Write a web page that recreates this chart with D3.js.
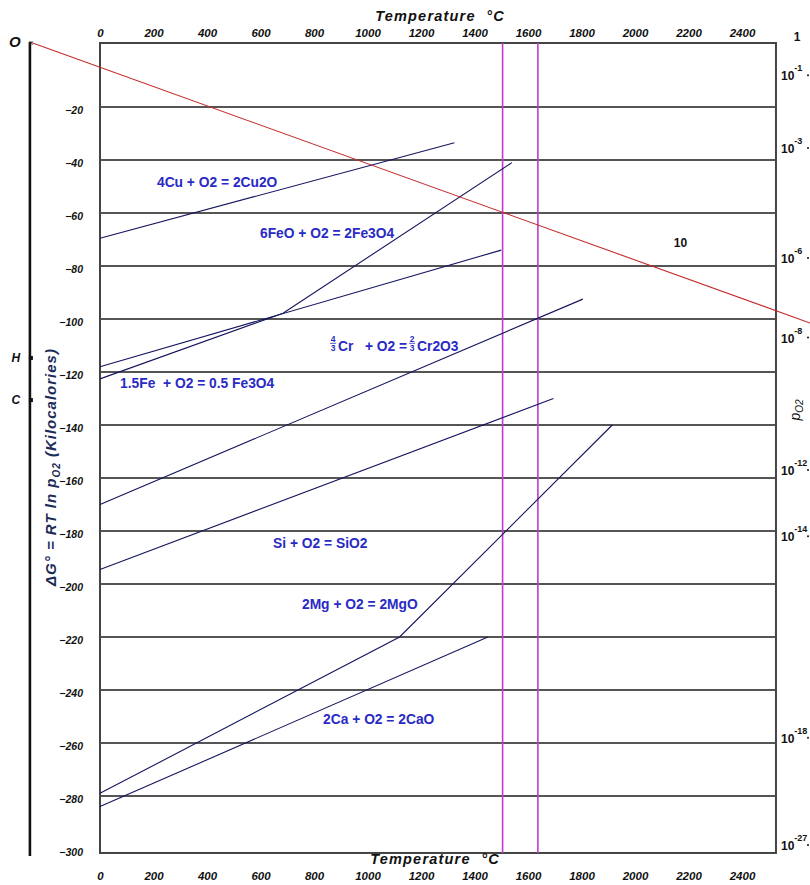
<!DOCTYPE html>
<html>
<head>
<meta charset="utf-8">
<script src="https://cdn.jsdelivr.net/npm/d3@7"></script>
<style>
  html, body { margin: 0; padding: 0; background: #fff; }
  svg { display: block; }
</style>
</head>
<body>
<div id="chart"></div>
<script>
// Ellingham diagram with p(O2) nomograph: standard free energy of oxide formation (kcal per mol O2) vs temperature.

const tempTicks = [0, 200, 400, 600, 800, 1000, 1200, 1400, 1600, 1800, 2000, 2200, 2400];
const energyTicks = [-20, -40, -60, -80, -100, -120, -140, -160, -180, -200, -220, -240, -260, -280, -300];
const gridValues = [-20, -40, -60, -80, -100, -120, -140, -160, -180, -200, -220, -240, -260, -280];

// Reaction lines: [temperature °C, ΔG° kcal]
const cuLine   = [[0, -69.5], [1325, -33.5]];
const feLine   = [[0, -118], [1500, -74]];
const feoLine  = [[0, -122.6], [684, -97.8], [1540, -41]];
const crLine   = [[0, -170], [1805, -92.5]];
const siLine   = [[0, -194.5], [1695, -130]];
const mgLine   = [[0, -279], [1120, -220], [1915, -140]];
const caLine   = [[0, -284], [1450, -220]];

const reactionLabels = ["4Cu + O2 = 2Cu2O", "6FeO + O2 = 2Fe3O4", "1.5Fe  + O2 = 0.5 Fe3O4",
                        "Si + O2 = SiO2", "2Mg + O2 = 2MgO", "2Ca + O2 = 2CaO"];
// label anchor (start of text): [temperature °C, ΔG° kcal]
const reactionLabelAt = [[213, -50.2], [598, -69.4], [75, -126], [647, -186.4], [755, -209.4], [834, -252.8]];
const crLabelAt = [860, -110.5];

// Steelmaking temperature band (°C)
const meltTemps = [1505, 1637];

// Nomograph: origin O at 0 K, and the oxygen-potential line
const oxygenLine = [[-262, 4.5], [2654, -101.5]];
const originPoints = [{ name: "O", g: 4.5 }, { name: "H", g: -114.7 }, { name: "C", g: -130.6 }];
const oxygenMarkAt = [2170, -73];

// Right-hand p(O2) scale (atm)
const pO2Exponents = [null, -1, -3, -6, -8, -12, -14, -18, -27];
const pO2At = [6.5, -8, -35.5, -77, -107, -157, -182, -258, -298.5];

const W = 810, H = 885;
const x = d3.scaleLinear().domain([0, 2400]).range([100, 742]);
const y = d3.scaleLinear().domain([0, -300]).range([54, 849]);
const frameT = [0, 2527];
const frameG = [4.15, -301.5];

const svg = d3.select("#chart").append("svg").attr("width", W).attr("height", H);

const tickFont = "'Liberation Sans', Arial, sans-serif";
const eqFont = "'Liberation Sans', Arial, sans-serif";
const eqColor = "#2a2ac4";
const lineColor = "#15155e";
const nb = s => s.replace(/ /g, "\u00a0");

// horizontal grid lines
svg.append("g").selectAll("line").data(gridValues).join("line")
  .attr("x1", x(frameT[0])).attr("x2", x(frameT[1]))
  .attr("y1", d => y(d)).attr("y2", d => y(d))
  .attr("stroke", "#1c1c1c").attr("stroke-width", 1.4);

// frame
svg.append("rect")
  .attr("x", x(frameT[0])).attr("y", y(frameG[0]))
  .attr("width", x(frameT[1]) - x(frameT[0])).attr("height", y(frameG[1]) - y(frameG[0]))
  .attr("fill", "none").attr("stroke", "#444").attr("stroke-width", 2);

// melting band verticals
svg.append("g").selectAll("line").data(meltTemps).join("line")
  .attr("x1", d => x(d)).attr("x2", d => x(d))
  .attr("y1", y(frameG[0])).attr("y2", y(frameG[1]))
  .attr("stroke", "#c03ad0").attr("stroke-width", 1.6);

// reaction lines
const line = d3.line().x(d => x(d[0])).y(d => y(d[1]));
svg.append("g").selectAll("path")
  .data([cuLine, feLine, feoLine, crLine, siLine, mgLine, caLine]).join("path")
  .attr("d", line).attr("fill", "none")
  .attr("stroke", lineColor).attr("stroke-width", 1.1);

// oxygen potential line from O
svg.append("path").attr("d", line(oxygenLine))
  .attr("fill", "none").attr("stroke", "#c42a2a").attr("stroke-width", 1.1);

// top & bottom temperature axes
const fmt = d3.format("d");
const topAxis = d3.axisTop(x).tickValues(tempTicks).tickFormat(fmt).tickSize(0).tickPadding(0);
const botAxis = d3.axisBottom(x).tickValues(tempTicks).tickFormat(fmt).tickSize(0).tickPadding(0);
const gTop = svg.append("g").attr("transform", "translate(0,37)").call(topAxis);
const gBot = svg.append("g").attr("transform", "translate(0,872)").call(botAxis);
[gTop, gBot].forEach(g => {
  g.select(".domain").remove();
  g.selectAll("text")
    .attr("font-family", tickFont).attr("font-style", "italic").attr("font-weight", "bold")
    .attr("font-size", 11.5).attr("fill", "#111");
});

[[440, 21], [435, 864]].forEach(([tx, ty]) => {
  svg.append("text").attr("x", tx).attr("y", ty).attr("text-anchor", "middle")
    .attr("font-family", tickFont).attr("font-style", "italic").attr("font-weight", "bold")
    .attr("font-size", 14.5).attr("letter-spacing", 1.2).attr("fill", "#111")
    .text(nb("Temperature  °C"));
});

// left energy axis labels
const leftAxis = d3.axisLeft(y).tickValues(energyTicks).tickSize(0).tickPadding(0);
const gLeft = svg.append("g").attr("transform", "translate(83,3)").call(leftAxis);
gLeft.select(".domain").remove();
gLeft.selectAll("text")
  .attr("font-family", tickFont).attr("font-style", "italic").attr("font-weight", "bold")
  .attr("font-size", 10.5).attr("fill", "#111");

// nomograph axis at 0 K
const axisX = x(oxygenLine[0][0]);
svg.append("line").attr("x1", axisX).attr("x2", axisX)
  .attr("y1", y(originPoints[0].g)).attr("y2", 856)
  .attr("stroke", "#111").attr("stroke-width", 2.6);
svg.append("g").selectAll("text").data(originPoints).join("text")
  .attr("x", d => d.name === "O" ? axisX - 15 : axisX - 14)
  .attr("y", d => y(d.g) + (d.name === "O" ? 5 : 4))
  .attr("text-anchor", "middle")
  .attr("font-family", tickFont).attr("font-style", "italic").attr("font-weight", "bold")
  .attr("font-size", d => d.name === "O" ? 15 : 12).attr("fill", "#111")
  .text(d => d.name);
svg.append("g").selectAll("rect").data(originPoints.slice(1)).join("rect")
  .attr("x", axisX - 1).attr("y", d => y(d.g) - 2).attr("width", 4).attr("height", 4).attr("fill", "#111");
svg.append("text").attr("x", axisX + 1).attr("y", y(originPoints[0].g) + 3)
  .attr("text-anchor", "middle").attr("font-family", tickFont).attr("font-size", 8).attr("fill", "#333").text("x");

// y axis title
const yTitle = svg.append("text")
  .attr("transform", "translate(56,467) rotate(-90)").attr("text-anchor", "middle")
  .attr("font-family", tickFont).attr("font-style", "italic").attr("font-weight", "bold")
  .attr("font-size", 15).attr("letter-spacing", 1).attr("fill", "#1d2b58");
yTitle.append("tspan").text(nb("ΔG° = RT ln p"));
yTitle.append("tspan").attr("font-size", 10).attr("dy", 4).text("O2");
yTitle.append("tspan").attr("dy", -4).text(nb(" (Kilocalories)"));

// reaction labels
svg.append("g").selectAll("text").data(reactionLabels).join("text")
  .attr("x", (d, i) => x(reactionLabelAt[i][0])).attr("y", (d, i) => y(reactionLabelAt[i][1]))
  .attr("text-anchor", "start")
  .attr("font-family", eqFont).attr("font-weight", "bold").attr("font-size", 13.8)
  .attr("fill", eqColor).text(d => nb(d));

// chromium label with stacked fractions
const crG = svg.append("g").attr("transform", `translate(${x(crLabelAt[0])},${y(crLabelAt[1])})`)
  .attr("font-family", eqFont).attr("font-weight", "bold").attr("fill", eqColor);
function fraction(g, cx, num, den) {
  g.append("text").attr("x", cx).attr("y", -5).attr("text-anchor", "middle").attr("font-size", 8.5).text(num);
  g.append("line").attr("x1", cx - 3).attr("x2", cx + 3).attr("y1", -3.5).attr("y2", -3.5)
    .attr("stroke", eqColor).attr("stroke-width", 0.8);
  g.append("text").attr("x", cx).attr("y", 4.5).attr("text-anchor", "middle").attr("font-size", 8.5).text(den);
}
fraction(crG, 3, "4", "3");
const crMid = crG.append("text").attr("x", 8).attr("y", 4).attr("font-size", 13.8).text(nb("Cr   + O2 ="));
const midEnd = 8 + crMid.node().getComputedTextLength();
fraction(crG, midEnd + 5, "2", "3");
crG.append("text").attr("x", midEnd + 10).attr("y", 4).attr("font-size", 13.8).text("Cr2O3");

// "10" marker on the oxygen line
svg.append("text").attr("x", x(oxygenMarkAt[0])).attr("y", y(oxygenMarkAt[1])).attr("text-anchor", "middle")
  .attr("font-family", eqFont).attr("font-weight", "bold").attr("font-size", 12).attr("fill", "#111").text("10");

// right p(O2) scale
const rightG = svg.append("g").attr("font-family", eqFont).attr("font-weight", "bold").attr("fill", "#111");
pO2Exponents.forEach((e, i) => {
  const yy = y(pO2At[i]);
  if (e === null) {
    rightG.append("text").attr("x", 797).attr("y", yy + 4).attr("text-anchor", "middle").attr("font-size", 12).text("1");
  } else {
    const t = rightG.append("text").attr("x", 781).attr("y", yy + 5).attr("font-size", 12);
    t.append("tspan").text("10");
    t.append("tspan").attr("font-size", 9).attr("dy", -9).text(String(e));
    rightG.append("circle").attr("cx", 808).attr("cy", yy).attr("r", 1).attr("fill", "#111");
  }
});
const pLab = svg.append("text").attr("transform", "translate(800,410) rotate(-90)").attr("text-anchor", "middle")
  .attr("font-family", tickFont).attr("font-style", "italic").attr("font-size", 14).attr("fill", "#111");
pLab.append("tspan").text("p");
pLab.append("tspan").attr("font-size", 10).attr("dy", 3).text("O2");
</script>
</body>
</html>
